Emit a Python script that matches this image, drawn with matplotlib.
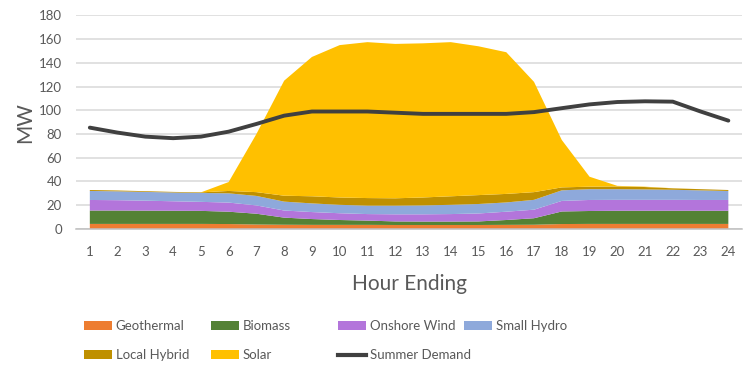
import matplotlib
matplotlib.use("Agg")
import matplotlib.pyplot as plt
from matplotlib.patches import Patch
from matplotlib.lines import Line2D
import numpy as np

plt.rcParams['font.family'] = ['Lato', 'DejaVu Sans']

hours = list(range(1, 25))

geothermal = [4.2, 4.2, 4.2, 4.2, 4.2, 4.1, 3.7, 3.5, 3.4, 3.4, 3.4, 3.3,
              3.3, 3.3, 3.3, 3.4, 3.5, 4.1, 4.2, 4.2, 4.2, 4.2, 4.2, 4.2]
biomass = [11.3, 11.3, 11.2, 11.1, 11.0, 10.4, 9.1, 6.0, 4.9, 4.1, 3.6, 3.0,
           2.9, 2.9, 3.0, 4.1, 5.5, 10.6, 10.9, 11.1, 11.1, 11.1, 11.1, 11.1]
onshore_wind = [8.9, 8.7, 8.4, 8.0, 7.6, 7.7, 7.0, 6.0, 5.9, 5.7, 5.5, 6.0,
                6.1, 6.3, 6.7, 7.0, 7.2, 8.9, 9.3, 9.2, 9.2, 9.2, 9.1, 9.1]
small_hydro = [7.6, 7.5, 7.4, 7.4, 7.5, 7.8, 8.0, 7.5, 7.3, 7.1, 7.1, 7.3,
               7.5, 7.8, 8.0, 7.8, 8.3, 8.9, 9.1, 9.0, 8.8, 8.5, 8.1, 7.6]
local_hybrid = [0.8, 0.7, 0.6, 0.5, 0.5, 2.0, 3.2, 5.0, 6.0, 6.2, 6.4, 6.2,
                6.7, 7.2, 7.5, 7.2, 6.5, 2.5, 2.1, 2.3, 2.0, 1.2, 1.0, 0.8]
solar = [0, 0, 0, 0, 0, 7.5, 49, 97, 117.5, 128.5, 131.5, 130.2,
         130, 130, 125.5, 119.5, 93, 40, 8.4, 0.5, 0.3, 0.1, 0, 0]
summer_demand = [85.4, 81.2, 77.8, 76.5, 77.8, 82, 88.5, 95.5, 99, 99, 99, 98,
                 97, 97, 97, 97, 98.5, 101.8, 105, 107, 107.6, 107.3, 99, 91.3]

names = ["Geothermal", "Biomass", "Onshore Wind", "Small Hydro", "Local Hybrid", "Solar"]
colors = ["#ED7D31", "#548235", "#B375DB", "#8EA9DB", "#BF9000", "#FFC000"]
line_color = "#404040"
text_color = "#595959"

fig = plt.figure(figsize=(7.52, 3.68), dpi=100)
ax = fig.add_axes([0.101, 0.378, 0.886, 0.58])

ax.stackplot(hours, geothermal, biomass, onshore_wind, small_hydro, local_hybrid, solar,
             colors=colors, zorder=2)
ax.plot(hours, summer_demand, color=line_color, lw=2.8, zorder=3, solid_capstyle='round')

ax.set_xlim(0.5, 24.5)
ax.set_ylim(0, 180)
ax.set_xticks(hours)
ax.set_yticks(np.arange(0, 181, 20))
ax.grid(axis='y', color='#D9D9D9', lw=1.1, zorder=0)
ax.set_axisbelow(True)
for s in ['top', 'right', 'left']:
    ax.spines[s].set_visible(False)
ax.spines['bottom'].set_color('#BFBFBF')
ax.spines['bottom'].set_linewidth(1.1)
ax.tick_params(length=0, labelsize=9.5, labelcolor=text_color)
ax.tick_params(axis='x', pad=12)
ax.tick_params(axis='y', pad=10)

ax.set_xlabel("Hour Ending", fontsize=15, color=text_color, labelpad=12)
ax.set_ylabel("MW", fontsize=15, color=text_color, labelpad=3)

# legend in four fixed-width columns
handles = [Patch(facecolor=c, edgecolor='none') for c in colors]
handles.append(Line2D([0], [0], color=line_color, lw=3))
labels = names + ["Summer Demand"]
columns = [[0, 4], [1, 5], [2, 6], [3]]
col_x = [84, 211, 338, 464]
for xpos, idx in zip(col_x, columns):
    fig.legend([handles[i] for i in idx], [labels[i] for i in idx],
               loc='upper left', bbox_to_anchor=(xpos / 752, 1 - 320 / 368),
               frameon=False, fontsize=9.5, labelcolor=text_color,
               handlelength=2.1, handleheight=0.6, handletextpad=0.3,
               labelspacing=1.3, borderaxespad=0, borderpad=0)

fig.savefig("out.png", dpi=100)
